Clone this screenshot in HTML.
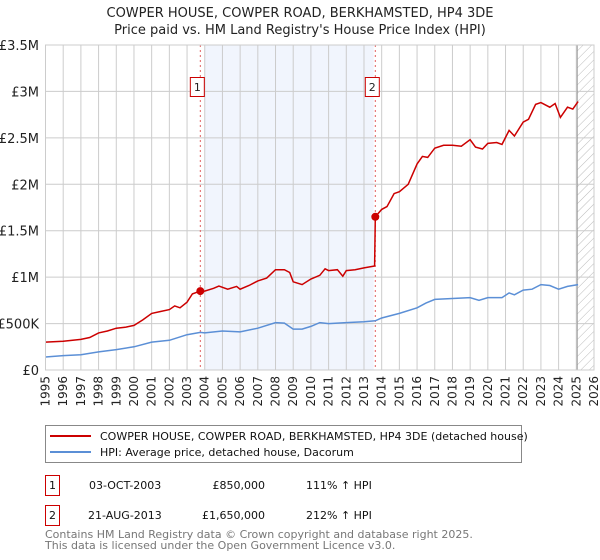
<!DOCTYPE html>
<html><head><meta charset="utf-8"><style>
body{margin:0;background:#fff;font-family:"Liberation Sans","DejaVu Sans",sans-serif;}
#wrap{position:relative;width:600px;height:560px;overflow:hidden;}
</style></head><body>
<div id="wrap">
<svg id="chart" width="600" height="560" xmlns="http://www.w3.org/2000/svg" font-family="DejaVu Sans, Liberation Sans, sans-serif">
<defs><pattern id="hatch" width="6" height="6" patternUnits="userSpaceOnUse" patternTransform="rotate(45)"><line x1="0" y1="0" x2="0" y2="6" stroke="#bbb" stroke-width="1"/></pattern></defs>
<text x="300" y="17" text-anchor="middle" font-size="13" fill="#222">COWPER HOUSE, COWPER ROAD, BERKHAMSTED, HP4 3DE</text>
<text x="300" y="34" text-anchor="middle" font-size="13" fill="#222">Price paid vs. HM Land Registry's House Price Index (HPI)</text>
<g id="plot"></g>
<g>
<rect x="45.5" y="425.5" width="476" height="37" fill="#fff" stroke="#888"/>
<line x1="50" y1="436" x2="91" y2="436" stroke="#cc0000" stroke-width="2"/>
<text x="100" y="440" font-size="11" fill="#111">COWPER HOUSE, COWPER ROAD, BERKHAMSTED, HP4 3DE (detached house)</text>
<line x1="50" y1="452" x2="91" y2="452" stroke="#5b8fd6" stroke-width="2"/>
<text x="100" y="456" font-size="11" fill="#111">HPI: Average price, detached house, Dacorum</text>
</g>
<g font-size="11" fill="#111">
<rect x="45.5" y="475.5" width="14" height="20" fill="#fff" stroke="#cc0000"/>
<text x="52.5" y="489" text-anchor="middle">1</text>
<text x="89" y="489">03-OCT-2003</text>
<text x="265" y="489" text-anchor="end">£850,000</text>
<text x="306" y="489">111% ↑ HPI</text>
<rect x="45.5" y="505.5" width="14" height="20" fill="#fff" stroke="#cc0000"/>
<text x="52.5" y="519" text-anchor="middle">2</text>
<text x="88" y="519">21-AUG-2013</text>
<text x="265" y="519" text-anchor="end">£1,650,000</text>
<text x="306" y="519">212% ↑ HPI</text>
</g>
<text x="45" y="538" font-size="11" fill="#777">Contains HM Land Registry data © Crown copyright and database right 2025.</text>
<text x="45" y="549" font-size="11" fill="#777">This data is licensed under the Open Government Licence v3.0.</text>
</svg>
</div>
<script>
const yTickValues=[0,500000,1000000,1500000,2000000,2500000,3000000,3500000];
const yTickLabels=["£0","£500K","£1M","£1.5M","£2M","£2.5M","£3M","£3.5M"];
const xYears=[1995,1996,1997,1998,1999,2000,2001,2002,2003,2004,2005,2006,2007,2008,2009,2010,2011,2012,2013,2014,2015,2016,2017,2018,2019,2020,2021,2022,2023,2024,2025,2026];
const propDates=[1995,1996,1997,1997.5,1998,1998.5,1999,1999.5,2000,2000.5,2001,2001.5,2002,2002.3,2002.6,2003,2003.3,2003.75,2004,2004.5,2004.8,2005.3,2005.8,2006,2006.5,2007,2007.5,2008,2008.5,2008.8,2009,2009.5,2010,2010.5,2010.8,2011,2011.5,2011.8,2012,2012.5,2013,2013.6,2013.64,2014,2014.3,2014.7,2015,2015.5,2016,2016.3,2016.6,2017,2017.5,2018,2018.5,2019,2019.3,2019.7,2020,2020.5,2020.8,2021.2,2021.5,2022,2022.3,2022.7,2023,2023.5,2023.8,2024.1,2024.5,2024.8,2025.1];
const propValues=[300000,310000,330000,350000,400000,420000,450000,460000,480000,540000,610000,630000,650000,690000,670000,730000,820000,850000,850000,880000,905000,870000,900000,870000,910000,960000,990000,1080000,1080000,1050000,950000,920000,980000,1020000,1090000,1070000,1080000,1010000,1070000,1080000,1100000,1120000,1650000,1730000,1760000,1900000,1920000,2000000,2220000,2300000,2290000,2390000,2420000,2420000,2410000,2480000,2400000,2380000,2440000,2450000,2430000,2580000,2520000,2670000,2700000,2860000,2880000,2830000,2870000,2720000,2830000,2810000,2890000];
const hpiDates=[1995,1996,1997,1998,1999,2000,2001,2002,2003,2003.75,2004,2005,2006,2007,2008,2008.5,2009,2009.5,2010,2010.5,2011,2012,2013,2013.64,2014,2015,2016,2016.5,2017,2018,2019,2019.5,2020,2020.8,2021.2,2021.5,2022,2022.5,2023,2023.5,2024,2024.5,2025.1];
const hpiValues=[140000,155000,165000,195000,220000,250000,300000,320000,380000,405000,400000,420000,410000,450000,510000,505000,440000,440000,470000,510000,500000,510000,520000,530000,560000,610000,670000,720000,760000,770000,780000,750000,780000,780000,830000,810000,860000,870000,920000,910000,870000,900000,920000];
const saleDates=[2003.75,2013.64];
const saleValues=[850000,1650000];
const saleLabels=["1","2"];

const X0=45.5,X1=594,Y0=370,Y1=45,YMIN=1995,YMAX=2026,VMAX=3500000;
const xs=t=>X0+(t-YMIN)/(YMAX-YMIN)*(X1-X0);
const ys=v=>Y0-v/VMAX*(Y0-Y1);
const NS="http://www.w3.org/2000/svg";
const plot=document.getElementById('plot');
function mk(tag,attrs){const e=document.createElementNS(NS,tag);for(const k in attrs)e.setAttribute(k,attrs[k]);plot.appendChild(e);return e;}
let e;
e=mk('rect',{x:X0,y:Y1,width:X1-X0,height:Y0-Y1,fill:'#fff'});


e=mk('rect',{x:xs(2004),y:Y1,width:xs(2013.55)-xs(2004),height:Y0-Y1,fill:'#eef3fc',opacity:0.8});


e=mk('rect',{x:xs(2025.05),y:Y1,width:X1-xs(2025.05),height:Y0-Y1,fill:'url(#hatch)'});


xYears.forEach(yr=>{
  e=mk('line',{x1:xs(yr),x2:xs(yr),y1:Y1,y2:Y0,stroke:'#ccc','stroke-width':1});
  
  
  const t=mk('text',{x:0,y:0,'font-size':12,fill:'#222','text-anchor':'end',transform:`translate(${xs(yr)+4},${Y0+6}) rotate(-90)`});
  t.textContent=yr;
  
  
});
yTickValues.forEach((v,i)=>{
  e=mk('line',{x1:X0,x2:X1,y1:ys(v),y2:ys(v),stroke:'#ccc','stroke-width':1});
  
  
  const t=mk('text',{x:39,y:ys(v)+5,'font-size':13,fill:'#222','text-anchor':'end'});
  t.textContent=yTickLabels[i];
  
  
});
e=mk('line',{x1:xs(2025.05),x2:xs(2025.05),y1:Y1,y2:Y0,stroke:'#999','stroke-width':1});


saleDates.forEach((d,i)=>{
  e=mk('line',{x1:xs(d),x2:xs(d),y1:Y1,y2:Y0,stroke:'#e06060','stroke-width':1,'stroke-dasharray':'2,3'});
  
  
});
function path(dates,vals){return dates.map((d,i)=>(i?'L':'M')+xs(d).toFixed(1)+','+ys(vals[i]).toFixed(1)).join(' ');}
e=mk('path',{d:path(hpiDates,hpiValues),fill:'none',stroke:'#5b8fd6','stroke-width':1.5});


e=mk('path',{d:path(propDates,propValues),fill:'none',stroke:'#cc0000','stroke-width':1.5});


saleDates.forEach((d,i)=>{
  e=mk('circle',{cx:xs(d),cy:ys(saleValues[i]),r:4,fill:'#cc0000'});
  
  
  const bx=xs(d)-10;
  e=mk('rect',{x:bx,y:77.5,width:14,height:19,fill:'#fff',stroke:'#cc0000'});
  
  
  const t=mk('text',{x:bx+7,y:91,'font-size':11,fill:'#222','text-anchor':'middle'});
  t.textContent=saleLabels[i];
  
  
});
e=mk('rect',{x:X0,y:Y1,width:X1-X0,height:Y0-Y1,fill:'none',stroke:'#ccc'});


</script>
</body></html>
